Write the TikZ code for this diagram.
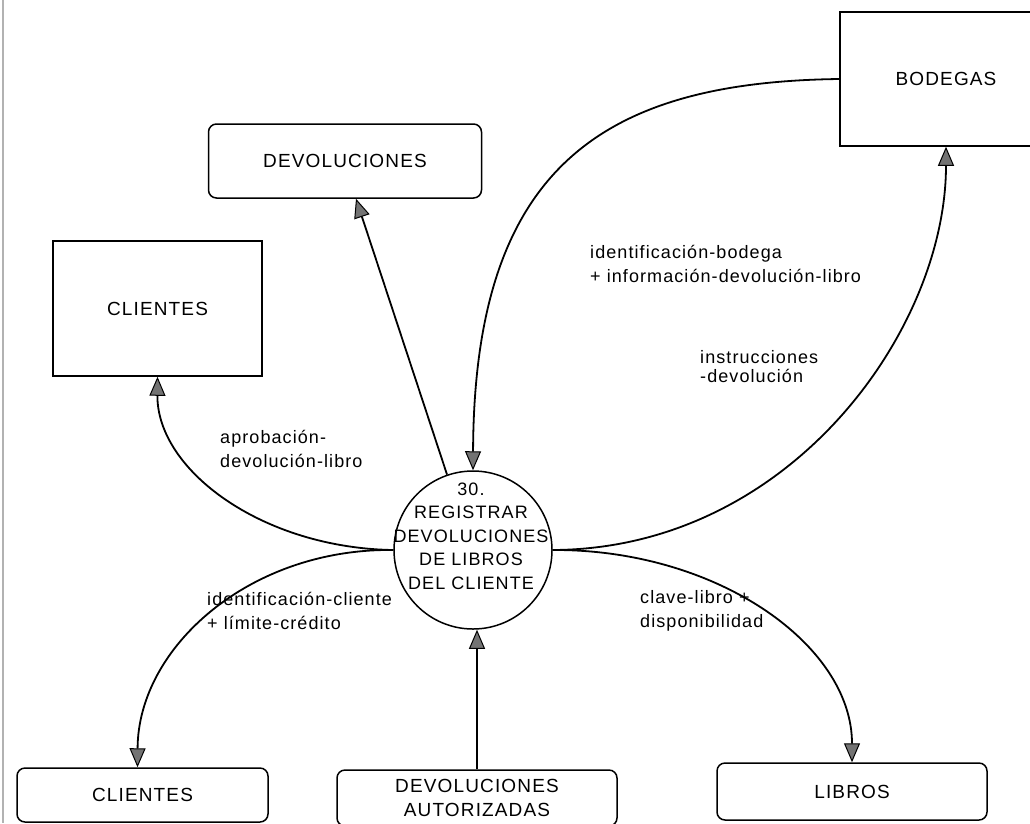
\documentclass[tikz,border=0pt]{standalone}
\usepackage{fontspec}
\setmainfont{Liberation Sans}[LetterSpace=6]
\usetikzlibrary{arrows.meta}
\begin{document}
\begin{tikzpicture}[x=1pt,y=-1pt,
  every node/.style={font=\fontsize{19}{24}\selectfont},
  store/.style={draw, rounded corners=8pt, line width=1.5pt},
  entity/.style={draw, line width=1.5pt},
  flow/.style={line width=1.8pt, -{Triangle[width=16pt,length=19pt,fill=black!55,line width=1pt]}},
  lbl/.style={font=\fontsize{18}{24}\selectfont, align=left, anchor=west, inner sep=0pt}]
\useasboundingbox (0,0) rectangle (1030,823);
\fill[white] (0,0) rectangle (1030,823);
% page edge
\draw[black!30, line width=2pt] (3,0) -- (3,823);

% external entities
\node[entity, minimum width=212pt, minimum height=134pt] (bod) at (946,79) {BODEGAS};
\node[entity, minimum width=209pt, minimum height=135pt] (clil) at (157.5,308.5) {CLIENTES};

% data stores
\node[store, minimum width=273pt, minimum height=74pt] (devtop) at (345,161) {DEVOLUCIONES};
\node[store, minimum width=251pt, minimum height=54pt] (clib) at (142.5,795) {CLIENTES};
\node[store, minimum width=280pt, minimum height=56pt, align=center] (auth) at (477,798) {DEVOLUCIONES\\AUTORIZADAS};
\node[store, minimum width=270pt, minimum height=57pt] (libros) at (852,791.5) {LIBROS};

% process
\node[draw, circle, line width=1.5pt, minimum size=158pt, inner sep=0pt] (proc) at (473,550) {};
\node[align=center, font=\fontsize{18}{23.5}\selectfont] (proctxt) at (471,536) {30.\\REGISTRAR\\DEVOLUCIONES\\DE LIBROS\\DEL CLIENTE};

% flow labels
\node[lbl] (l1) at (590,264) {identificación-bodega\\+ información-devolución-libro};
\node[lbl, font=\fontsize{18}{19}\selectfont] (l2) at (700,367) {instrucciones\\-devolución};
\node[lbl] (l3) at (220,449) {aprobación-\\devolución-libro};
\node[lbl] (l4) at (207,611) {identificación-cliente\\+ límite-crédito};
\node[lbl] (l5) at (640,611) {clave-libro +\\disponibilidad};

% flows
\draw[flow] (bod.west) .. controls (600,82) and (474,170) .. (proc.north);
\draw[flow] (proc.east) .. controls (790,549) and (946,330) .. (bod.south);
\draw[flow] (proc.109) -- ([xshift=11pt]devtop.south);
\draw[flow] (proc.west) .. controls (262,548) and (157,470) .. (clil.south);
\draw[flow] (proc.west) .. controls (250,548) and (138,647) .. ([xshift=-5pt]clib.north);
\draw[flow] (auth.north) -- (auth.north |- proc.south);
\draw[flow] (proc.east) .. controls (717,549) and (852,645) .. (libros.north);
\end{tikzpicture}
\end{document}
